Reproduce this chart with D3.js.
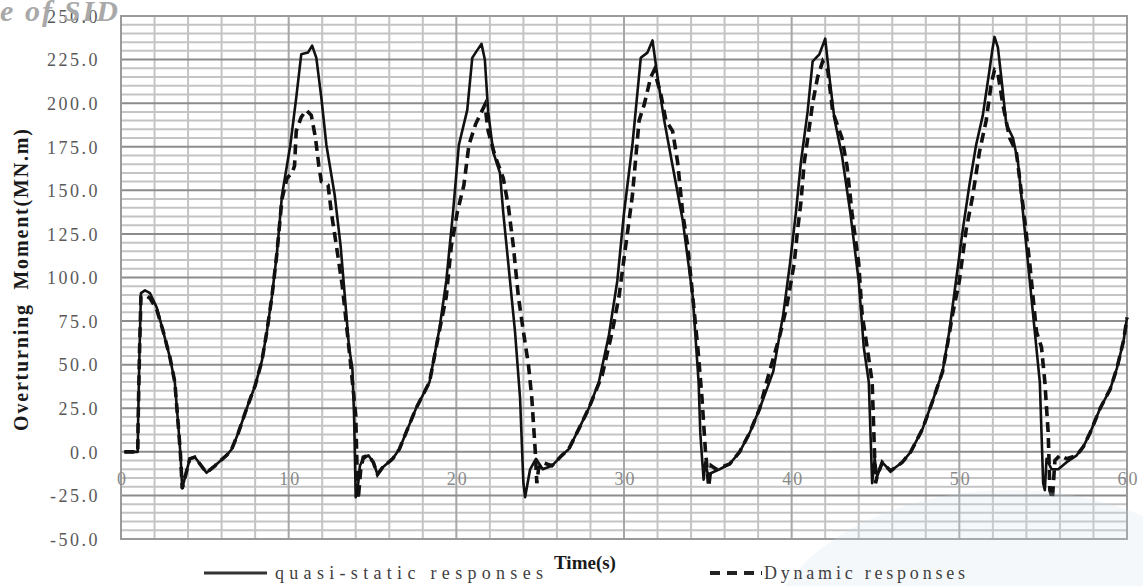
<!DOCTYPE html>
<html><head><meta charset="utf-8">
<script src="https://cdn.jsdelivr.net/npm/d3@7"></script>
<style>body{margin:0;background:#fff}svg{display:block}</style>
</head><body>
<svg id="c" width="1143" height="586"></svg>
<script>
// ---- data ----
const quasiT = [0.2,1.0,1.02,1.1,1.19,1.43,1.73,2.12,2.52,2.92,3.21,3.45,3.55,3.65,4.1,4.4,5.1,5.6,6.3,6.6,7.0,7.5,8.0,8.4,8.7,9.0,9.3,9.6,10.1,10.45,10.75,11.15,11.4,11.65,11.95,12.25,12.75,13.1,13.3,13.6,13.8,13.9,14.0,14.15,14.25,14.45,14.75,15.05,15.3,15.6,16.2,16.6,17.0,17.6,18.4,19.0,19.4,19.8,20.15,20.65,20.95,21.15,21.5,21.7,21.9,22.2,22.6,22.8,23.1,23.5,23.8,24.0,24.1,24.4,24.75,25.15,25.7,26.3,26.7,27.3,27.9,28.5,29.1,29.6,30.0,30.5,31.0,31.4,31.7,32.0,32.4,32.9,33.5,34.1,34.45,34.55,34.65,34.75,34.85,35.0,35.7,36.3,36.9,37.5,38.1,38.9,39.5,39.9,40.25,40.55,40.95,41.25,41.65,42.0,42.25,42.55,43.0,43.5,44.0,44.3,44.6,44.7,44.8,44.95,45.1,45.4,45.9,46.6,47.1,47.8,48.4,49.0,49.4,49.8,50.2,50.6,51.0,51.4,51.8,51.96,52.1,52.3,52.5,52.8,53.2,53.5,53.8,54.2,54.5,54.8,54.9,55.0,55.1,55.2,55.5,55.9,56.4,57.0,57.4,57.8,58.4,59.0,59.4,59.8,60.0];
const quasiV = [0,0,17,56,91,92.6,91,83,69,54,40,11,-2,-21,-4,-3,-12,-8,-2,1.5,11,25,38,52,69,89,114,147,176,203,228,229,233,226,203,176,147,118,95,60,48,21,-26,-18,-8,-4,-2,-6,-13,-9,-4,1.5,11,25,40,71,98,137,176,196,226,229,234,225,195,172,160,137,108,69,31,-18,-26,-10,-4,-10,-8,-2,1.5,13,25,40,67,98,137,176,226,229,236,215,190,164,133,89,40,11,-3,-16,-6,-13,-10,-7,0,11,25,46,79,108,137,166,195,224,228,237,215,191,170,137,98,60,40,11,-18,-4,-14,-6,-11,-6,0,13,29,46,69,98,127,153,176,193,219,230,238,232,215,188,180,166,137,98,69,40,11,-18,-22,-4,-10,-10,-6,-2,3,11,25,36,48,64,77];
const dynT = [0.2,1.0,1.02,1.1,1.19,1.45,1.73,2.12,2.52,2.92,3.21,3.45,3.55,3.65,4.1,4.4,5.1,5.6,6.3,6.6,7.0,7.5,8.0,8.4,8.7,9.0,9.3,9.6,9.9,10.2,10.35,10.45,10.75,11.05,11.35,11.6,11.8,11.95,12.35,12.55,12.85,13.2,13.7,14.0,14.05,14.1,14.15,14.3,14.45,14.75,15.05,15.3,15.6,16.2,16.6,17.0,17.6,18.4,19.0,19.4,19.7,20.05,20.45,20.75,21.15,21.5,21.7,21.9,22.3,22.8,23.1,23.4,23.7,24.0,24.3,24.5,24.7,24.8,24.9,25.1,25.7,26.3,26.7,27.3,27.9,28.7,29.3,29.7,30.1,30.5,30.9,31.2,31.6,31.8,32.2,32.5,32.9,33.2,33.5,33.8,34.1,34.4,34.65,34.85,35.05,35.2,35.5,36.3,36.9,37.5,38.1,38.5,39.3,39.7,40.15,40.35,40.55,40.75,41.05,41.25,41.55,41.85,42.15,42.45,43.0,43.3,43.6,44.0,44.2,44.5,44.8,44.9,45.0,45.1,45.4,45.9,46.6,47.1,47.8,48.4,49.0,49.3,49.6,50.0,50.4,50.8,51.2,51.6,51.9,52.1,52.3,52.6,53.0,53.4,53.8,54.2,54.6,54.9,55.1,55.3,55.4,55.55,55.7,56.0,56.4,57.0,57.4,57.8,58.4,59.0,59.4,59.8,60.0];
const dynV = [0,0,17,56,89,90,88,82,69,54,40,11,-2,-21,-4,-3,-12,-8,-2,1.5,11,25,38,52,69,89,114,145,157,160,164,184,192,196,193,180,164,155,153,137,118,95,50,21,1.5,-18,-27,-10,-3,-2,-6,-13,-9,-4,1.5,11,25,40,70,89,118,137,153,176,188,195,199,184,170,157,141,118,89,69,50,31,1.5,-18,-10,-6,-8,-2,1.5,13,25,44,69,89,118,147,190,199,215,219,205,190,184,166,137,118,89,60,31,1.5,-20,-8,-10,-7,0,11,25,40,67,83,108,127,143,166,186,200,215,224,219,195,180,164,137,108,79,60,40,11,-18,-14,-6,-11,-6,0,13,29,46,62,79,98,127,147,172,190,211,219,217,199,180,172,141,108,69,60,40,11,-22,-27,-5,-2,-4,-2,3,11,25,36,48,64,77];
const yTicks = [250,225,200,175,150,125,100,75,50,25,0,-25,-50];
const xTicks = [0,10,20,30,40,50,60];
const seriesNames = ["quasi-static responses","Dynamic responses"];
const yTitle = "Overturning  Moment(MN.m)";
const xTitle = "Time(s)";

const svg = d3.select("#c");
const W = 1143, H = 586;
const x = d3.scaleLinear().domain([0,60]).range([121,1127]);
const y = d3.scaleLinear().domain([-50,250]).range([539,16]);
const serif = "'Liberation Serif','Times New Roman',serif";

svg.append("rect").attr("width",W).attr("height",H).attr("fill","#fff");

// grid
const g = svg.append("g");
const minorX = d3.range(0,61,2).filter(d=>d%10!==0);
const minorY = d3.range(-50,251,5).filter(d=>d%25!==0);
g.selectAll(".mx").data(minorX).join("line").attr("x1",d=>x(d)).attr("x2",d=>x(d)).attr("y1",y(250)).attr("y2",y(-50)).attr("stroke","#c4c4c4").attr("stroke-width",2);
g.selectAll(".my").data(minorY).join("line").attr("y1",d=>y(d)).attr("y2",d=>y(d)).attr("x1",x(0)).attr("x2",x(60)).attr("stroke","#c4c4c4").attr("stroke-width",2);
g.selectAll(".Mx").data(xTicks).join("line").attr("x1",d=>x(d)).attr("x2",d=>x(d)).attr("y1",y(250)).attr("y2",y(-50)).attr("stroke","#a6a6a6").attr("stroke-width",2);
g.selectAll(".My").data(yTicks).join("line").attr("y1",d=>y(d)).attr("y2",d=>y(d)).attr("x1",x(0)).attr("x2",x(60)).attr("stroke","#8c8c8c").attr("stroke-width",2);
g.append("rect").attr("x",x(0)).attr("y",y(250)).attr("width",x(60)-x(0)).attr("height",y(-50)-y(250)).attr("fill","none").attr("stroke","#9a9a9a").attr("stroke-width",2);

// y axis labels
const ya = svg.append("g").attr("transform",`translate(${x(0)},0)`)
  .call(d3.axisLeft(y).tickValues(yTicks).tickFormat(d=>d.toFixed(1)).tickSize(0).tickPadding(21));
ya.select(".domain").remove();
ya.selectAll("text").attr("font-family",serif).attr("font-size",18).attr("fill","#595959").attr("letter-spacing","2.5px").attr("dy","0.35em");

// x axis labels along zero line
const xa = svg.append("g").attr("transform",`translate(0,${y(0)})`)
  .call(d3.axisBottom(x).tickValues(xTicks).tickFormat(d3.format("d")).tickSize(0).tickPadding(20));
xa.select(".domain").remove();
xa.selectAll("text").attr("font-family",serif).attr("font-size",18).attr("fill","#8a8a8a").attr("letter-spacing","2px").attr("dx","1px");

// series
const line = d3.line().x(d=>x(d[0])).y(d=>y(d[1]));
const qData = quasiT.map((t,i)=>[t,quasiV[i]]);
const dData = dynT.map((t,i)=>[t,dynV[i]]);
svg.append("path").datum(qData).attr("d",line).attr("fill","none").attr("stroke","#111").attr("stroke-width",2.6).attr("stroke-linejoin","round");
svg.append("path").datum(dData).attr("d",line).attr("fill","none").attr("stroke","#111").attr("stroke-width",3.6).attr("stroke-dasharray","10,6");

// faint watermark shape
svg.append("ellipse").attr("cx",1010).attr("cy",660).attr("rx",250).attr("ry",170).attr("fill","#d3deec").attr("opacity",0.22);

// titles
svg.append("text").attr("transform","translate(28,280) rotate(-90)").attr("text-anchor","middle")
  .attr("font-family",serif).attr("font-weight","bold").attr("font-size",20).attr("fill","#1a1a1a")
  .attr("textLength",302).attr("lengthAdjust","spacing").style("white-space","pre").text(yTitle);
svg.append("text").attr("x",585).attr("y",569).attr("text-anchor","middle").attr("font-family",serif)
  .attr("font-weight","bold").attr("font-size",19).attr("fill","#1a1a1a").text(xTitle);

// legend
svg.append("line").attr("x1",204).attr("x2",267).attr("y1",573).attr("y2",573).attr("stroke","#333").attr("stroke-width",3);
svg.append("text").attr("x",275).attr("y",579).attr("font-family",serif).attr("font-size",18).attr("fill","#404040")
  .attr("textLength",268).attr("lengthAdjust","spacing").text(seriesNames[0]);
svg.append("line").attr("x1",710).attr("x2",762).attr("y1",573).attr("y2",573).attr("stroke","#222").attr("stroke-width",4).attr("stroke-dasharray","10,7");
svg.append("text").attr("x",764).attr("y",579).attr("font-family",serif).attr("font-size",18).attr("fill","#404040")
  .attr("textLength",201).attr("lengthAdjust","spacing").text(seriesNames[1]);

// corner watermark text
svg.append("text").attr("x",0).attr("y",21).attr("font-family",serif).attr("font-style","italic").attr("font-weight","bold")
  .attr("font-size",30).attr("fill","#a9a9a9").attr("textLength",118).attr("lengthAdjust","spacing").text("e of SID");
</script>
</body></html>
